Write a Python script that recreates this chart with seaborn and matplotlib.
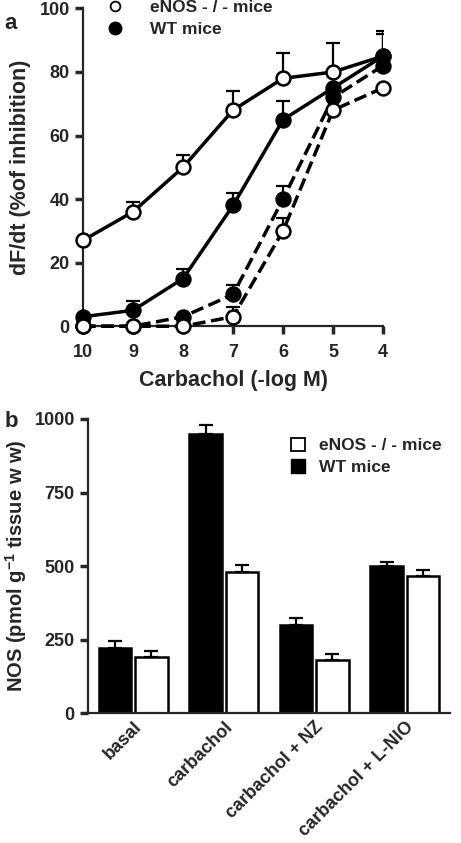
import numpy as np
import pandas as pd
import matplotlib
matplotlib.use('Agg')
import matplotlib.pyplot as plt
from matplotlib.lines import Line2D
from matplotlib.patches import Patch
import seaborn as sns

# panel a: dose response, x = carbachol (-log M)
conc = [10, 9, 8, 7, 6, 5, 4]
enos_solid = [27, 36, 50, 68, 78, 80, 85]
enos_solid_err = [0, 3, 4, 6, 8, 9, 7]
wt_solid = [3, 5, 15, 38, 65, 75, 85]
wt_solid_err = [0, 3, 3, 4, 6, 0, 8]
wt_dash = [0, 0, 3, 10, 40, 72, 82]
wt_dash_err = [0, 0, 0, 3, 4, 0, 0]
enos_dash = [0, 0, 0, 3, 30, 68, 75]
enos_dash_err = [0, 0, 0, 3, 4, 0, 0]

# panel b: NOS activity
conditions = ['basal', 'carbachol', 'carbachol + NZ', 'carbachol + L-NIO']
wt_nos = [222, 950, 300, 500]
wt_nos_err = [23, 30, 25, 15]
enos_nos = [190, 480, 180, 465]
enos_nos_err = [20, 25, 20, 20]

sns.set_style('ticks')
plt.rcParams['font.family'] = ['Liberation Sans', 'DejaVu Sans']
plt.rcParams['font.weight'] = 'bold'
plt.rcParams['axes.labelweight'] = 'bold'
plt.rcParams['mathtext.default'] = 'regular'

fig = plt.figure(figsize=(4.61, 8.43), dpi=100)
ax1 = fig.add_axes([0.180, 0.613, 0.651, 0.377])
ax2 = fig.add_axes([0.191, 0.154, 0.785, 0.349])

# ---- panel a
series = [
    ('eNOS', 'solid', enos_solid, enos_solid_err, 'white', '-'),
    ('WT', 'solid', wt_solid, wt_solid_err, 'black', '-'),
    ('WT', 'dash', wt_dash, wt_dash_err, 'black', '--'),
    ('eNOS', 'dash', enos_dash, enos_dash_err, 'white', '--'),
]
for name, kind, vals, errs, fc, ls in series:
    df = pd.DataFrame({'conc': conc, 'val': vals})
    ax1.errorbar(conc, vals, yerr=[np.zeros(len(errs)), errs], fmt='none',
                 ecolor='black', elinewidth=1.6, capsize=5, capthick=1.6, zorder=2)
    sns.lineplot(data=df, x='conc', y='val', ax=ax1, color='black', linewidth=2.5,
                 linestyle=ls, marker='o', markersize=10, markerfacecolor=fc,
                 markeredgecolor='black', markeredgewidth=1.8, zorder=3, clip_on=False)

ax1.set_xlim(10, 4)
ax1.set_ylim(0, 100)
ax1.set_xticks(conc)
ax1.set_yticks([0, 20, 40, 60, 80, 100])
ax1.set_xlabel('Carbachol (-log M)', fontsize=15.5, fontweight='bold', labelpad=6)
ax1.set_ylabel('dF/dt (%of inhibition)', fontsize=15.5, fontweight='bold', labelpad=6)
ax1.tick_params(labelsize=13, width=2.5, length=6)
ax1.tick_params(axis='x', pad=7)
for s in ['left', 'bottom']:
    ax1.spines[s].set_linewidth(1.6)
sns.despine(ax=ax1)

handles = [Line2D([], [], linestyle='none', marker='o', markersize=7, markerfacecolor='white',
                  markeredgecolor='black', markeredgewidth=1.3),
           Line2D([], [], linestyle='none', marker='o', markersize=9, markerfacecolor='black',
                  markeredgecolor='black')]
ax1.legend(handles, ['eNOS - / - mice', 'WT mice'], loc='upper left', bbox_to_anchor=(0.01, 1.075),
           frameon=False, fontsize=12.5, handletextpad=1.3, labelspacing=0.35, handlelength=1.5)

# ---- panel b
bars = pd.DataFrame({
    'condition': conditions * 2,
    'group': ['WT mice'] * 4 + ['eNOS - / - mice'] * 4,
    'value': wt_nos + enos_nos,
    'err': wt_nos_err + enos_nos_err,
})
sns.barplot(data=bars, x='condition', y='value', hue='group', ax=ax2,
            palette={'WT mice': 'black', 'eNOS - / - mice': 'white'},
            edgecolor='black', linewidth=1.8, gap=0.1, errorbar=None, legend=False)
for p, (_, row) in zip(ax2.patches, bars.iterrows()):
    xc = p.get_x() + p.get_width() / 2
    ax2.errorbar(xc, row['value'], yerr=[[0], [row['err']]], fmt='none', ecolor='black',
                 elinewidth=1.6, capsize=5, capthick=1.6, zorder=1)

ax2.set_xlim(-0.5, 3.5)
ax2.set_ylim(0, 1000)
ax2.set_yticks([0, 250, 500, 750, 1000])
ax2.set_xlabel('')
ax2.set_ylabel(r'NOS (pmol g$^{-1}$ tissue w w)', fontsize=14.5, fontweight='bold', labelpad=4)
ax2.tick_params(axis='y', labelsize=13, width=2.5, length=6)
ax2.tick_params(axis='x', length=0, labelsize=13, pad=4)
plt.setp(ax2.get_xticklabels(), rotation=45, ha='right', rotation_mode='anchor')
for s in ['left', 'bottom']:
    ax2.spines[s].set_linewidth(1.6)
sns.despine(ax=ax2)

handles2 = [Patch(facecolor='white', edgecolor='black', linewidth=1.3),
            Patch(facecolor='black', edgecolor='black')]
ax2.legend(handles2, ['eNOS - / - mice', 'WT mice'], loc='upper right', bbox_to_anchor=(1.02, 0.99),
           frameon=False, fontsize=12.5, handlelength=0.8, handleheight=0.8, handletextpad=0.8,
           labelspacing=0.35)

fig.text(0.01, 0.985, 'a', fontsize=16, fontweight='bold', va='top')
fig.text(0.01, 0.512, 'b', fontsize=16, fontweight='bold', va='top')

fig.savefig('out.png', dpi=100)
